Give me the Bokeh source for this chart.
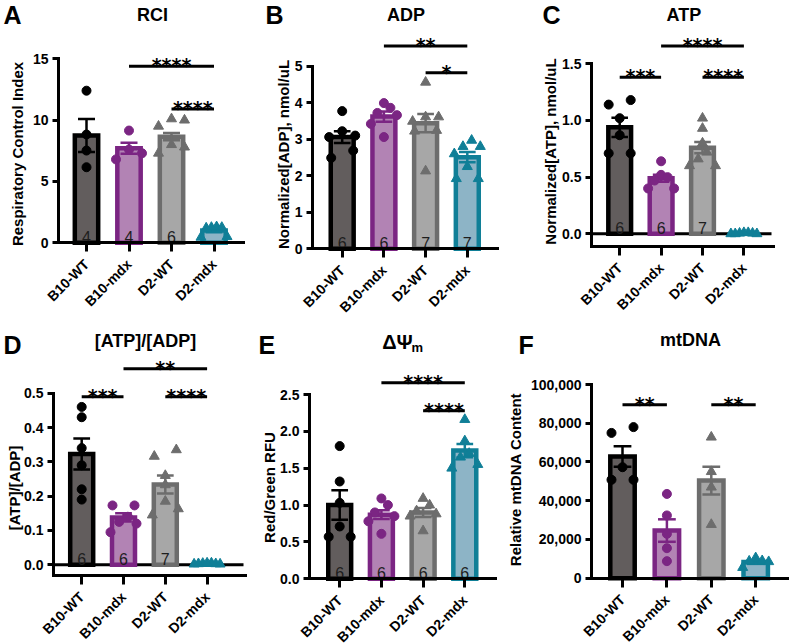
import math
import numpy as np
from bokeh.plotting import figure
from bokeh.layouts import row, column
from bokeh.models import (Range1d, FixedTicker, Label, NumeralTickFormatter,
                          PrintfTickFormatter, ColumnDataSource)
from bokeh.embed import file_html
from bokeh.resources import INLINE
from bokeh.core.properties import value

# ---------------------------------------------------------------- data
groups = ["B10-WT", "B10-mdx", "D2-WT", "D2-mdx"]
fill_colors = ["#625d5d", "#b283b4", "#a7a7a7", "#8db4c6"]
line_colors = ["#000000", "#7b2583", "#6d6d6d", "#107f97"]
markers = ["circle", "circle", "triangle", "triangle"]

# A  respiratory control index
rci_mean = [8.75, 7.7, 8.65, 1.0]
rci_sem = [1.35, 0.45, 0.3, 0.15]
rci_points = [[12.4, 8.83, 7.52, 6.16],
              [9.15, 7.6, 7.3, 6.8],
              [10.0, 10.1, 9.5, 8.0, 7.8, 7.3],
              [1.3, 1.25, 1.25, 1.2, 0.5, 0.45]]
rci_ticks = [0, 5, 10, 15]
rci_sig = [(1, 3, 14.4, "****"), (2, 3, 10.9, "****")]
rci_show_n = [True, True, True, False]

# B  ADP
adp_mean = [3.06, 3.62, 3.44, 2.51]
adp_sem = [0.16, 0.14, 0.25, 0.14]
adp_points = [[3.77, 3.22, 3.1, 3.06, 2.69, 2.49],
              [3.86, 3.99, 3.72, 3.66, 3.42, 3.06],
              [4.56, 3.61, 3.61, 3.49, 3.24, 3.22, 2.13],
              [2.8, 2.97, 2.8, 2.6, 2.25, 1.92, 1.92]]
adp_ticks = [0, 1, 2, 3, 4, 5]
adp_sig = [(1, 3, 5.55, "**"), (2, 3, 4.82, "*")]
adp_show_n = [True, True, True, True]

# C  ATP
atp_mean = [0.94, 0.49, 0.76, 0.004]
atp_sem = [0.085, 0.03, 0.05, 0.002]
atp_points = [[1.14, 1.18, 1.02, 0.87, 0.71, 0.71],
              [0.64, 0.52, 0.5, 0.47, 0.4, 0.4],
              [1.02, 0.93, 0.8, 0.72, 0.66, 0.6, 0.6],
              [0.01, 0.005, 0.0, 0.01, 0.005, 0.0, 0.0]]
atp_ticks = [0.0, 0.5, 1.0, 1.5]
atp_sig = [(1, 3, 1.656, "****"), (0, 1, 1.382, "***"), (2, 3, 1.382, "****")]
atp_show_n = [True, True, True, False]

# D  ATP/ADP ratio
ratio_mean = [0.323, 0.138, 0.234, 0.003]
ratio_sem = [0.045, 0.012, 0.026, 0.001]
ratio_points = [[0.46, 0.43, 0.34, 0.29, 0.22, 0.19],
                [0.173, 0.173, 0.14, 0.125, 0.12, 0.095],
                [0.335, 0.316, 0.26, 0.233, 0.185, 0.163, 0.145],
                [0.005, 0.003, 0.004, 0.002, 0.005, 0.003, 0.002]]
ratio_ticks = [0.0, 0.1, 0.2, 0.3, 0.4, 0.5]
ratio_sig = [(1, 3, 0.571, "**"), (0, 1, 0.490, "***"), (2, 3, 0.490, "****")]
ratio_show_n = [True, True, True, False]

# E  membrane potential
dpsi_mean = [1.0, 0.87, 0.90, 1.74]
dpsi_sem = [0.2, 0.06, 0.06, 0.09]
dpsi_points = [[1.8, 1.32, 1.03, 0.71, 0.57, 0.57],
               [1.09, 1.0, 0.9, 0.85, 0.78, 0.61],
               [1.09, 1.0, 0.92, 0.88, 0.85, 0.65],
               [2.16, 1.87, 1.7, 1.65, 1.55, 1.5]]
dpsi_ticks = [0.0, 0.5, 1.0, 1.5, 2.0, 2.5]
dpsi_sig = [(1, 3, 2.66, "****"), (2, 3, 2.28, "****")]
dpsi_show_n = [True, True, True, True]

# F  mtDNA copy number
mtdna_mean = [62800, 24600, 50400, 8300]
mtdna_sem = [5300, 5800, 7200, 900]
mtdna_points = [[78000, 75000, 57300, 50800, 50800],
                [43500, 32400, 22900, 15500, 8800],
                [72800, 55000, 47000, 27700],
                [10500, 9000, 8500, 8800, 5500]]
mtdna_ticks = [0, 20000, 40000, 60000, 80000, 100000]
mtdna_sig = [(0, 1, 89500, "**"), (2, 3, 89500, "**")]
mtdna_show_n = [False, False, False, False]

FONT = "Liberation Sans"


def swarm_offsets(vals, ppu, diam=9.0, max_half=13.0):
    """Spread points of similar value sideways (returns pixel offsets)."""
    vals = np.asarray(vals, dtype=float)
    order = np.argsort(vals)
    offs = np.zeros(len(vals))
    clusters, cur = [], [order[0]]
    for a, b in zip(order[:-1], order[1:]):
        if (vals[b] - vals[a]) * ppu < diam:
            cur.append(b)
        else:
            clusters.append(cur)
            cur = [b]
    clusters.append(cur)
    for cl in clusters:
        k = len(cl)
        if k == 1:
            continue
        step = min(22.0, 2 * max_half / (k - 1))
        pos = (np.arange(k) - (k - 1) / 2) * step
        seq = []
        lo, hi = 0, k - 1
        while lo <= hi:
            seq.append(lo)
            if hi != lo:
                seq.append(hi)
            lo += 1
            hi -= 1
        for idx, p in zip(cl, seq):
            offs[idx] = pos[p]
    return offs


def make_panel(size, axes_px, bars_px, ycal, mean, sem, points, ticks, sig, show_n,
               letter, title, ylabel, fmt=None, zero_line=False, subscript=None,
               title_size="18px"):
    """One bar/scatter panel.  The plot frame covers the whole panel and the
    axes are pinned inside it, so every caption can sit anywhere."""
    W, H = size
    ax_left, ax_right, ax_bottom = axes_px
    x1, dx = bars_px
    (va, pa), (vb, pb) = ycal
    ppu = (pa - pb) / (vb - va)

    def yv(px):
        return va + (pa - px) / ppu

    def xv(px):
        return 1 + (px - x1) / dx

    p = figure(width=W, height=H, x_range=Range1d(xv(0), xv(W)),
               y_range=Range1d(yv(H), yv(0)), output_backend="svg",
               toolbar_location=None, min_border=0)
    p.outline_line_color = None
    p.grid.visible = False
    p.background_fill_color = "white"
    p.border_fill_color = "white"

    x_axis_at = yv(ax_bottom) if zero_line else 0.0

    for ax in (p.xaxis[0], p.yaxis[0]):
        ax.axis_line_width = 3
        ax.axis_line_color = "black"
        ax.axis_line_cap = "square"
        ax.major_tick_line_width = 3
        ax.major_tick_line_color = "black"
        ax.major_tick_in = 0
        ax.minor_tick_line_color = None
        ax.major_label_text_font = FONT
        ax.major_label_text_font_style = "bold"
        ax.major_label_text_color = "black"

    xa = p.xaxis[0]
    xa.fixed_location = x_axis_at
    xa.bounds = (xv(ax_left), xv(ax_right))
    xa.ticker = FixedTicker(ticks=[1, 2, 3, 4])
    xa.major_label_overrides = {i + 1: g for i, g in enumerate(groups)}
    xa.major_label_orientation = math.pi / 4
    xa.major_label_text_font_size = "14px"
    xa.major_tick_out = 9
    xa.major_label_standoff = 10

    ya = p.yaxis[0]
    ya.fixed_location = xv(ax_left)
    ya.ticker = FixedTicker(ticks=ticks)
    ya.bounds = (x_axis_at, ticks[-1])
    ya.major_label_text_font_size = "14px"
    ya.major_tick_out = 6
    ya.major_label_standoff = 4
    if fmt == "comma":
        ya.formatter = NumeralTickFormatter(format="0,0")
    elif fmt is not None:
        ya.formatter = PrintfTickFormatter(format=fmt)

    if zero_line:
        p.segment(x0=[xv(ax_left)], y0=[0], x1=[xv(ax_right - 2)], y1=[0],
                  line_color="black", line_width=3)

    xs = [1, 2, 3, 4]
    src = ColumnDataSource(dict(x=xs, top=mean, fill=fill_colors, line=line_colors))
    p.vbar(x="x", top="top", bottom=0, width=0.55, source=src, fill_color="fill",
           line_color="line", line_width=4.5, line_join="miter")

    lo = [m - s for m, s in zip(mean, sem)]
    hi = [m + s for m, s in zip(mean, sem)]
    p.segment(x0=xs, y0=lo, x1=xs, y1=hi, line_color=line_colors, line_width=2.5)
    cap = 0.2
    for yy in (lo, hi):
        p.segment(x0=[x - cap for x in xs], y0=yy, x1=[x + cap for x in xs], y1=yy,
                  line_color=line_colors, line_width=2.5)

    for i, vals in enumerate(points):
        offs = swarm_offsets(vals, ppu)
        px = [xs[i] + o / dx for o in offs]
        p.scatter(x=px, y=vals, marker=markers[i],
                  size=9 if markers[i] == "circle" else 10,
                  fill_color=line_colors[i], line_color=line_colors[i])

    # group sizes printed inside the bars
    nx = [xs[i] for i in range(4) if show_n[i]]
    nt = [str(len(points[i])) for i in range(4) if show_n[i]]
    if nx:
        p.text(x=nx, y=[0] * len(nx), text=nt, text_align="center",
               text_baseline="alphabetic", y_offset=-6, text_font=value(FONT),
               text_font_size="16px", text_color="#1e1e1e")

    for a, b, yy, stars in sig:
        p.segment(x0=[a + 1], y0=[yy], x1=[b + 1], y1=[yy], line_color="black",
                  line_width=3)
        p.text(x=[(a + b) / 2 + 1], y=[yy], text=[stars], text_align="center",
               text_baseline="alphabetic", y_offset=-1,
               text_font=value("DejaVu Sans"), text_font_style="bold",
               text_font_size="19px", text_color="black")

    def lab(text, cx, cy, **kw):
        opts = dict(x_units="screen", y_units="screen", text_font=FONT,
                    text_font_style="bold", text_color="black",
                    text_baseline="middle", text_align="center")
        opts.update(kw)
        p.add_layout(Label(x=cx, y=H - cy, text=text, **opts))

    lab(letter[0], letter[1], letter[2], text_font_size="25px", text_align="left")
    lab(title[0], title[1], title[2], text_font_size=title_size)
    if subscript is not None:
        lab(subscript[0], subscript[1], subscript[2], text_font_size="13px",
            text_align="left")
    lab(ylabel[0], ylabel[1], ylabel[2], text_font_size="15px", angle=math.pi / 2)
    return p


pA = make_panel((262, 320), (58, 243, 242.3), (86, 42.5), ((0, 242.3), (15, 58.3)),
                rci_mean, rci_sem, rci_points, rci_ticks, rci_sig, rci_show_n,
                ("A", 3, 14), ("RCI", 152, 14), ("Respiratory Control Index", 17, 153.5))
pB = make_panel((258, 320), (50, 235, 248.3), (79.7, 41.7), ((0, 248.3), (5, 65.7)),
                adp_mean, adp_sem, adp_points, adp_ticks, adp_sig, adp_show_n,
                ("B", 3, 14), ("ADP", 143.5, 14), ("Normalized[ADP], nmol/uL", 21, 154))
pC = make_panel((270, 320), (71, 253, 246), (99.2, 41.4), ((0, 233.3), (1.5, 63.3)),
                atp_mean, atp_sem, atp_points, atp_ticks, atp_sig, atp_show_n,
                ("C", 22, 14), ("ATP", 163.3, 14), ("Normalized[ATP], nmol/uL", 30, 151),
                fmt="%.1f", zero_line=True)
pD = make_panel((258, 324), (53, 245, 255), (81.2, 41.8), ((0, 244.3), (0.5, 72.7)),
                ratio_mean, ratio_sem, ratio_points, ratio_ticks, ratio_sig, ratio_show_n,
                ("D", 3, 24), ("[ATP]/[ADP]", 145, 20), ("[ATP]/[ADP]", 14, 167.5),
                fmt="%.1f", zero_line=True)
pE = make_panel((245, 324), (51, 237, 258.3), (81.2, 41.7), ((0, 258.3), (2.5, 74)),
                dpsi_mean, dpsi_sem, dpsi_points, dpsi_ticks, dpsi_sig, dpsi_show_n,
                ("E", 0, 24), ("ΔΨ", 139, 21.5), ("Red/Green RFU", 11, 167),
                fmt="%.1f", subscript=("m", 153, 27), title_size="20px")
pF = make_panel((287, 324), (88, 284, 257.7), (119, 44.4), ((0, 257.7), (100000, 64)),
                mtdna_mean, mtdna_sem, mtdna_points, mtdna_ticks, mtdna_sig, mtdna_show_n,
                ("F", 15, 24), ("mtDNA", 187, 19), ("Relative mtDNA Content", 12, 159),
                fmt="comma")

layout = column(row(pA, pB, pC), row(pD, pE, pF))
open("out.html", "w").write(file_html(layout, INLINE))
